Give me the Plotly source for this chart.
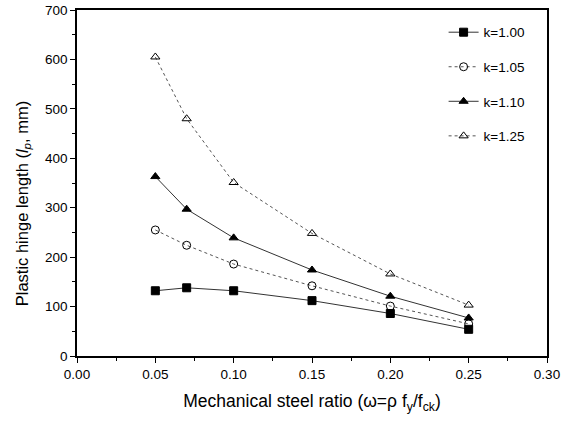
import plotly.graph_objects as go

x_vals = [0.05, 0.07, 0.10, 0.15, 0.20, 0.25]
k100 = [132, 138, 132, 112, 86, 54]
k105 = [255, 224, 186, 142, 101, 65]
k110 = [363, 297, 239, 174, 121, 77]
k125 = [605, 480, 351, 248, 166, 103]

series = [
    ("k=1.00", k100, "square", "solid"),
    ("k=1.05", k105, "circle-open", "dot"),
    ("k=1.10", k110, "triangle-up", "solid"),
    ("k=1.25", k125, "triangle-up-open", "dot"),
]

fig = go.Figure()
for i, (name, vals, sym, dash) in enumerate(series):
    fig.add_trace(go.Scatter(
        x=x_vals, y=vals, name=name, mode="lines+markers",
        line=dict(color="#333333" if dash == "solid" else "#555555", width=1, dash=dash),
        marker=dict(symbol=sym, size=8, color="black", line=dict(color="black", width=1)),
        legendgroup=f"g{i}",
    ))

font = "Liberation Sans, Arial, sans-serif"
fig.update_layout(
    width=570, height=421,
    margin=dict(l=77, r=23, t=10, b=65),
    paper_bgcolor="white", plot_bgcolor="white",
    font=dict(family=font, size=13.5, color="black"),
    showlegend=True,
    legend=dict(x=0.78, y=0.98, xanchor="left", yanchor="top",
                bgcolor="rgba(0,0,0,0)", font=dict(size=13.5),
                tracegroupgap=14),
    xaxis=dict(range=[0, 0.30], tickvals=[0, 0.05, 0.10, 0.15, 0.20, 0.25, 0.30],
               ticktext=["0.00", "0.05", "0.10", "0.15", "0.20", "0.25", "0.30"],
               ticks="outside", ticklen=5, tickwidth=1, tickcolor="black",
               minor=dict(dtick=0.025, ticks="outside", ticklen=3, tickcolor="black"),
               showline=True, linecolor="black", linewidth=1.5, mirror=True,
               showgrid=False, zeroline=False, automargin=False,
               tickfont=dict(size=13.5),
               title=dict(text="Mechanical steel ratio (ω=ρ f<sub>y</sub>/f<sub>ck</sub>)",
                          font=dict(size=17.5), standoff=14)),
    yaxis=dict(range=[0, 700], tickvals=[0, 100, 200, 300, 400, 500, 600, 700],
               ticks="outside", ticklen=5, tickwidth=1, tickcolor="black",
               minor=dict(dtick=50, ticks="outside", ticklen=3, tickcolor="black"),
               showline=True, linecolor="black", linewidth=1.5, mirror=True,
               showgrid=False, zeroline=False, automargin=False,
               tickfont=dict(size=13.5)),
    annotations=[dict(
        text="Plastic hinge length (<i>l</i><sub><i>p</i></sub>, mm)",
        xref="paper", yref="paper", x=-0.116, y=0.44,
        xanchor="center", yanchor="middle", textangle=-90,
        showarrow=False, font=dict(size=16.5),
    )],
)

fig.write_html("out.html", post_script="document.body.style.margin='0';",
               config={"displayModeBar": False})
